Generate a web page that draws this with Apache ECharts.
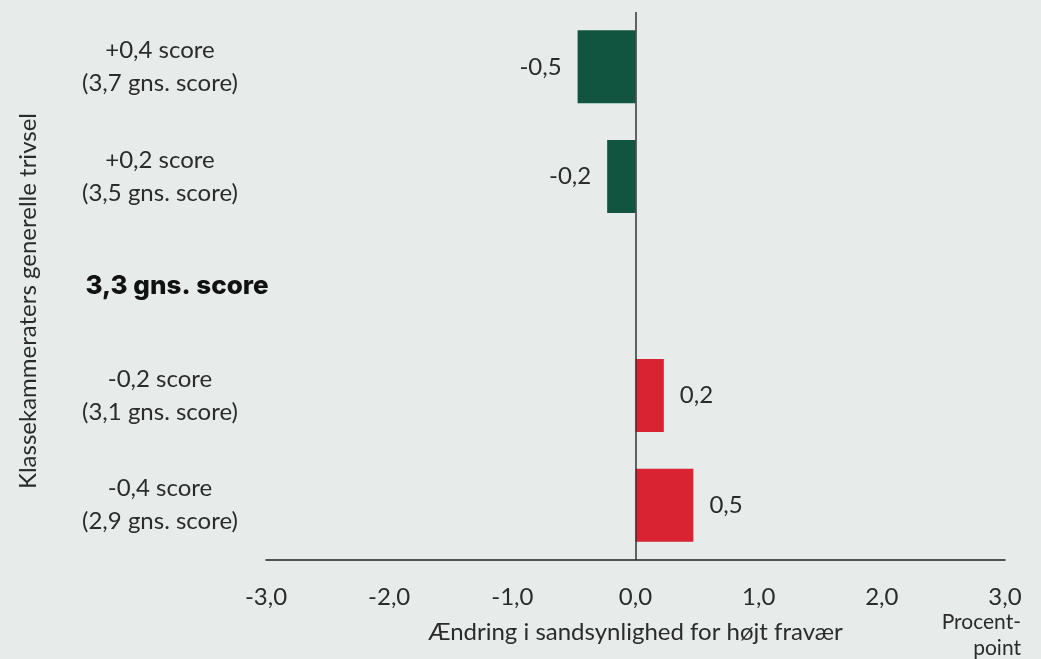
<!DOCTYPE html>
<html>
<head>
<meta charset="utf-8">
<script src="https://cdn.jsdelivr.net/npm/echarts@6/dist/echarts.min.js"></script>
<style>
  html, body { margin: 0; padding: 0; background: #e7ecea; }
  #chart { width: 1041px; height: 659px; }
</style>
</head>
<body>
<div id="chart"></div>
<script>
// kategorier (top til bund)
const categories = [
  '+0,4 score\n(3,7 gns. score)',
  '+0,2 score\n(3,5 gns. score)',
  '3,3 gns. score',
  '-0,2 score\n(3,1 gns. score)',
  '-0,4 score\n(2,9 gns. score)'
]
// ændring i procentpoint
const values = [-0.47, -0.23, null, 0.23, 0.47]
// tekst på søjlerne
const barLabels = ['-0,5', '-0,2', '', '0,2', '0,5']
const xTicks = { min: -3, max: 3, interval: 1 }

const GREEN = '#115541'
const RED = '#d92232'
const TXT = '#2b2b2b'
const FONT = 'Lato'

const seriesData = values.map(function (v, i) {
  if (v === null) return null
  return {
    value: v,
    itemStyle: { color: v < 0 ? GREEN : RED },
    label: {
      show: true,
      position: v < 0 ? 'left' : 'right',
      distance: 16,
      formatter: barLabels[i],
      fontFamily: FONT,
      fontSize: 24,
      color: TXT
    }
  }
})

const myChart = echarts.init(document.getElementById('chart'))
const option = {
  backgroundColor: '#e7ecea',
  animation: false,
  title: {
    text: 'Procent-\npoint',
    left: 1016,
    top: 604,
    textAlign: 'right',
    textStyle: {
      fontFamily: FONT,
      fontWeight: 'normal',
      fontSize: 21,
      lineHeight: 26,
      color: TXT
    }
  },
  grid: {
    left: 266,
    right: 36,
    top: 12,
    bottom: 99
  },
  xAxis: {
    type: 'value',
    min: xTicks.min,
    max: xTicks.max,
    interval: xTicks.interval,
    name: 'Ændring i sandsynlighed for højt fravær',
    nameLocation: 'middle',
    nameGap: 60,
    nameTextStyle: { fontFamily: FONT, fontSize: 24, color: TXT },
    axisLine: { show: true, onZero: false, lineStyle: { color: '#222', width: 1.5 } },
    axisTick: { show: false },
    splitLine: { show: false },
    axisLabel: {
      margin: 25,
      fontFamily: FONT,
      fontSize: 24,
      color: TXT,
      formatter: function (v) { return v.toFixed(1).replace('.', ',') }
    }
  },
  yAxis: {
    type: 'category',
    inverse: true,
    data: categories,
    name: 'Klassekammeraters generelle trivsel',
    nameLocation: 'middle',
    nameGap: 221,
    nameRotate: 90,
    nameTextStyle: { fontFamily: FONT, fontSize: 24, color: TXT, padding: [0, 30, 0, 0] },
    axisLine: { show: false },
    axisTick: { show: false },
    axisLabel: {
      margin: 106,
      align: 'center',
      fontFamily: FONT,
      fontSize: 24,
      lineHeight: 33,
      color: TXT,
      formatter: function (v, i) {
        if (i === 2) return '{b|' + v + '}'
        return v
      },
      rich: {
        b: {
          fontFamily: 'Inter',
          fontWeight: 800,
          fontSize: 26,
          color: '#111',
          padding: [0, 0, 0, 34]
        }
      }
    }
  },
  series: [{
    type: 'bar',
    data: seriesData,
    barWidth: 73,
    markLine: {
      silent: true,
      symbol: 'none',
      label: { show: false },
      lineStyle: { color: '#333', width: 1.5, type: 'solid' },
      data: [{ xAxis: 0 }]
    }
  }]
}
myChart.setOption(option, true)
</script>
</body>
</html>
